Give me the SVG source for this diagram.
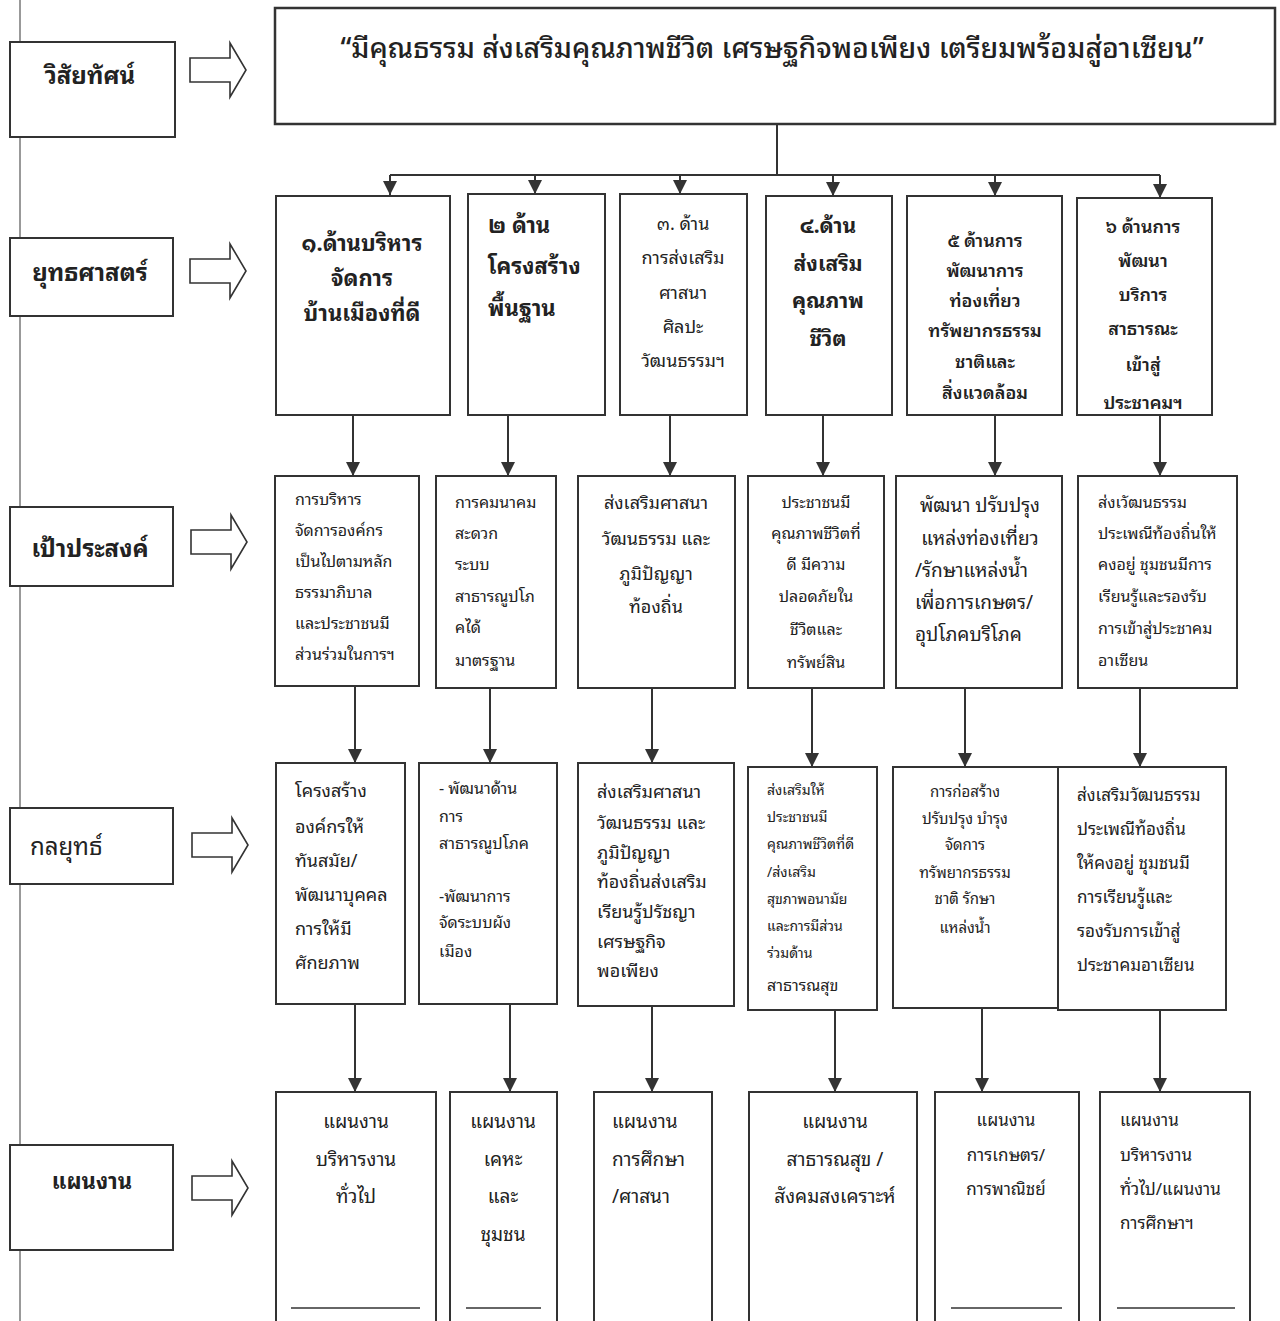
<svg xmlns="http://www.w3.org/2000/svg" width="1280" height="1321" viewBox="0 0 1280 1321">
<style>
text{font-family:"Noto Sans Thai Looped","Noto Sans Thai","Noto Sans","DejaVu Sans",sans-serif;fill:#222;}
.box{fill:#fff;stroke:#333;stroke-width:2;}
.lbl{font-size:24px;font-weight:bold;}
.c{text-anchor:middle;}
.b{font-weight:bold;}
.con{stroke:#333;stroke-width:2;fill:none;}
.hol{fill:#fff;stroke:#333;stroke-width:1.6;}
.ul{stroke:#333;stroke-width:1.5;}
</style>
<defs>
<marker id="ah" viewBox="0 0 10 10" refX="10" refY="5" markerWidth="7" markerHeight="7" orient="auto" markerUnits="strokeWidth">
<path d="M0,0 L10,5 L0,10 z" fill="#333"/>
</marker>
<path id="hollow" d="M0,-12 L40,-12 L40,-27 L56,0 L40,27 L40,12 L0,12 z"/>
</defs>
<rect x="0" y="0" width="1280" height="1321" fill="#fff"/>
<line x1="20" y1="0" x2="20" y2="1321" stroke="#999" stroke-width="2"/>

<g id="labels">
<g id="lbl-vision"><rect class="box" x="10" y="42" width="165" height="95"/><text class="lbl c" x="90" y="84">วิสัยทัศน์</text><use href="#hollow" class="hol" x="190" y="70"/></g>
<g id="lbl-strategy"><rect class="box" x="10" y="238" width="163" height="78"/><text class="lbl c" x="90" y="281">ยุทธศาสตร์</text><use href="#hollow" class="hol" x="190" y="271"/></g>
<g id="lbl-goal"><rect class="box" x="10" y="507" width="163" height="79"/><text class="lbl c" x="90" y="557">เป้าประสงค์</text><use href="#hollow" class="hol" x="191" y="542"/></g>
<g id="lbl-tactic"><rect class="box" x="10" y="808" width="163" height="76"/><text x="30" y="855" style="font-size:24px">กลยุทธ์</text><use href="#hollow" class="hol" x="192" y="845"/></g>
<g id="lbl-plan"><rect class="box" x="10" y="1145" width="163" height="105"/><text class="c" x="92" y="1189" style="font-size:22px;font-weight:bold">แผนงาน</text><use href="#hollow" class="hol" x="192" y="1188"/></g>
</g>

<g id="connectors">
<polyline class="con" points="777,124 777,175"/>
<line class="con" x1="390" y1="175" x2="1160" y2="175"/>
<line class="con" x1="390" y1="175" x2="390" y2="195" marker-end="url(#ah)"/>
<line class="con" x1="535" y1="175" x2="535" y2="194" marker-end="url(#ah)"/>
<line class="con" x1="680" y1="175" x2="680" y2="194" marker-end="url(#ah)"/>
<line class="con" x1="833" y1="175" x2="833" y2="196" marker-end="url(#ah)"/>
<line class="con" x1="995" y1="175" x2="995" y2="196" marker-end="url(#ah)"/>
<line class="con" x1="1160" y1="175" x2="1160" y2="198" marker-end="url(#ah)"/>

<line class="con" x1="353" y1="415" x2="353" y2="476" marker-end="url(#ah)"/>
<line class="con" x1="508" y1="415" x2="508" y2="476" marker-end="url(#ah)"/>
<line class="con" x1="670" y1="415" x2="670" y2="476" marker-end="url(#ah)"/>
<line class="con" x1="823" y1="415" x2="823" y2="476" marker-end="url(#ah)"/>
<line class="con" x1="995" y1="415" x2="995" y2="476" marker-end="url(#ah)"/>
<line class="con" x1="1160" y1="415" x2="1160" y2="476" marker-end="url(#ah)"/>

<line class="con" x1="355" y1="686" x2="355" y2="763" marker-end="url(#ah)"/>
<line class="con" x1="490" y1="688" x2="490" y2="763" marker-end="url(#ah)"/>
<line class="con" x1="652" y1="688" x2="652" y2="763" marker-end="url(#ah)"/>
<line class="con" x1="812" y1="688" x2="812" y2="767" marker-end="url(#ah)"/>
<line class="con" x1="965" y1="688" x2="965" y2="767" marker-end="url(#ah)"/>
<line class="con" x1="1140" y1="688" x2="1140" y2="767" marker-end="url(#ah)"/>

<line class="con" x1="355" y1="1004" x2="355" y2="1092" marker-end="url(#ah)"/>
<line class="con" x1="510" y1="1004" x2="510" y2="1092" marker-end="url(#ah)"/>
<line class="con" x1="652" y1="1006" x2="652" y2="1092" marker-end="url(#ah)"/>
<line class="con" x1="835" y1="1010" x2="835" y2="1092" marker-end="url(#ah)"/>
<line class="con" x1="982" y1="1008" x2="982" y2="1092" marker-end="url(#ah)"/>
<line class="con" x1="1160" y1="1010" x2="1160" y2="1092" marker-end="url(#ah)"/>
</g>

<g id="vision">
<rect class="box" x="275" y="8" width="1000" height="116" style="stroke-width:2.5"/>
<text class="c" x="772" y="58" style="font-size:28.4px;font-weight:500">“มีคุณธรรม ส่งเสริมคุณภาพชีวิต เศรษฐกิจพอเพียง เตรียมพร้อมสู่อาเซียน”</text>
</g>

<g id="s1"><rect class="box" x="276" y="196" width="174" height="219"/>
<text class="c b" x="362" style="font-size:22px"><tspan x="362" y="251">๑.ด้านบริหาร</tspan><tspan x="362" y="286">จัดการ</tspan><tspan x="362" y="321">บ้านเมืองที่ดี</tspan></text></g>
<g id="s2"><rect class="box" x="468" y="194" width="137" height="221"/>
<text class="b" style="font-size:22px"><tspan x="488" y="233">๒  ด้าน</tspan><tspan x="488" y="274">โครงสร้าง</tspan><tspan x="488" y="316">พื้นฐาน</tspan></text></g>
<g id="s3"><rect class="box" x="620" y="194" width="127" height="221"/>
<text class="c" style="font-size:18px"><tspan x="683" y="230">๓.  ด้าน</tspan><tspan x="683" y="264">การส่งเสริม</tspan><tspan x="683" y="299">ศาสนา</tspan><tspan x="683" y="333">ศิลปะ</tspan><tspan x="683" y="367">วัฒนธรรมฯ</tspan></text></g>
<g id="s4"><rect class="box" x="766" y="196" width="126" height="219"/>
<text class="c b" style="font-size:21px"><tspan x="828" y="233">๔.ด้าน</tspan><tspan x="828" y="271">ส่งเสริม</tspan><tspan x="828" y="308">คุณภาพ</tspan><tspan x="828" y="346">ชีวิต</tspan></text></g>
<g id="s5"><rect class="box" x="907" y="196" width="155" height="219"/>
<text class="c" style="font-size:18px;font-weight:600"><tspan x="985" y="247">๕ ด้านการ</tspan><tspan x="985" y="277">พัฒนาการ</tspan><tspan x="985" y="307">ท่องเที่ยว</tspan><tspan x="985" y="337">ทรัพยากรธรรม</tspan><tspan x="985" y="368">ชาติและ</tspan><tspan x="985" y="399">สิ่งแวดล้อม</tspan></text></g>
<g id="s6"><rect class="box" x="1077" y="198" width="135" height="217"/>
<text class="c" style="font-size:18px;font-weight:600"><tspan x="1143" y="233">๖ ด้านการ</tspan><tspan x="1143" y="267">พัฒนา</tspan><tspan x="1143" y="301">บริการ</tspan><tspan x="1143" y="335">สาธารณะ</tspan><tspan x="1143" y="371">เข้าสู่</tspan><tspan x="1143" y="409">ประชาคมฯ</tspan></text></g>

<g id="g1"><rect class="box" x="275" y="476" width="144" height="210"/>
<text style="font-size:16px"><tspan x="295" y="505">การบริหาร</tspan><tspan x="295" y="536">จัดการองค์กร</tspan><tspan x="295" y="567">เป็นไปตามหลัก</tspan><tspan x="295" y="598">ธรรมาภิบาล</tspan><tspan x="295" y="629">และประชาชนมี</tspan><tspan x="295" y="660">ส่วนร่วมในการฯ</tspan></text></g>
<g id="g2"><rect class="box" x="436" y="476" width="120" height="212"/>
<text style="font-size:16px"><tspan x="455" y="508">การคมนาคม</tspan><tspan x="455" y="539">สะดวก</tspan><tspan x="455" y="570">ระบบ</tspan><tspan x="455" y="602">สาธารณูปโภ</tspan><tspan x="455" y="633">คได้</tspan><tspan x="455" y="666">มาตรฐาน</tspan></text></g>
<g id="g3"><rect class="box" x="578" y="476" width="157" height="212"/>
<text class="c" style="font-size:18px"><tspan x="656" y="509">ส่งเสริมศาสนา</tspan><tspan x="656" y="545">วัฒนธรรม และ</tspan><tspan x="656" y="580">ภูมิปัญญา</tspan><tspan x="656" y="613">ท้องถิ่น</tspan></text></g>
<g id="g4"><rect class="box" x="748" y="476" width="136" height="212"/>
<text class="c" style="font-size:16px"><tspan x="816" y="508">ประชาชนมี</tspan><tspan x="816" y="539">คุณภาพชีวิตที่</tspan><tspan x="816" y="570">ดี มีความ</tspan><tspan x="816" y="602">ปลอดภัยใน</tspan><tspan x="816" y="635">ชีวิตและ</tspan><tspan x="816" y="668">ทรัพย์สิน</tspan></text></g>
<g id="g5"><rect class="box" x="896" y="476" width="166" height="212"/>
<text style="font-size:19px"><tspan x="980" y="512" text-anchor="middle">พัฒนา ปรับปรุง</tspan><tspan x="980" y="545" text-anchor="middle">แหล่งท่องเที่ยว</tspan><tspan x="915" y="577">/รักษาแหล่งน้ำ</tspan><tspan x="915" y="609">เพื่อการเกษตร/</tspan><tspan x="915" y="641">อุปโภคบริโภค</tspan></text></g>
<g id="g6"><rect class="box" x="1078" y="476" width="159" height="212"/>
<text style="font-size:16px"><tspan x="1098" y="508">ส่งเวัฒนธรรม</tspan><tspan x="1098" y="539">ประเพณีท้องถิ่นให้</tspan><tspan x="1098" y="570">คงอยู่ ชุมชนมีการ</tspan><tspan x="1098" y="602">เรียนรู้และรองรับ</tspan><tspan x="1098" y="634">การเข้าสู่ประชาคม</tspan><tspan x="1098" y="666">อาเซียน</tspan></text></g>

<g id="t1"><rect class="box" x="276" y="763" width="129" height="241"/>
<text style="font-size:18px"><tspan x="295" y="797">โครงสร้าง</tspan><tspan x="295" y="833">องค์กรให้</tspan><tspan x="295" y="867">ทันสมัย/</tspan><tspan x="295" y="901">พัฒนาบุคคล</tspan><tspan x="295" y="935">การให้มี</tspan><tspan x="295" y="969">ศักยภาพ</tspan></text></g>
<g id="t2"><rect class="box" x="419" y="763" width="138" height="241"/>
<text style="font-size:16px"><tspan x="439" y="794">-  พัฒนาด้าน</tspan><tspan x="439" y="822">การ</tspan><tspan x="439" y="849">สาธารณูปโภค</tspan><tspan x="439" y="902">-พัฒนาการ</tspan><tspan x="439" y="928">จัดระบบผัง</tspan><tspan x="439" y="957">เมือง</tspan></text></g>
<g id="t3"><rect class="box" x="578" y="763" width="156" height="243"/>
<text style="font-size:18px"><tspan x="597" y="798">ส่งเสริมศาสนา</tspan><tspan x="597" y="829">วัฒนธรรม และ</tspan><tspan x="597" y="859">ภูมิปัญญา</tspan><tspan x="597" y="888">ท้องถิ่นส่งเสริม</tspan><tspan x="597" y="918">เรียนรู้ปรัชญา</tspan><tspan x="597" y="948">เศรษฐกิจ</tspan><tspan x="597" y="977">พอเพียง</tspan></text></g>
<g id="t4"><rect class="box" x="748" y="767" width="129" height="243"/>
<text style="font-size:14px"><tspan x="767" y="795">ส่งเสริมให้</tspan><tspan x="767" y="822">ประชาชนมี</tspan><tspan x="767" y="849">คุณภาพชีวิตที่ดี</tspan><tspan x="767" y="877">/ส่งเสริม</tspan><tspan x="767" y="904">สุขภาพอนามัย</tspan><tspan x="767" y="931">และการมีส่วน</tspan><tspan x="767" y="958">ร่วมด้าน</tspan><tspan x="767" y="991" style="font-size:16px">สาธารณสุข</tspan></text></g>
<g id="t5"><rect class="box" x="893" y="767" width="169" height="241"/>
<text class="c" style="font-size:15px"><tspan x="965" y="797">การก่อสร้าง</tspan><tspan x="965" y="824">ปรับปรุง  บำรุง</tspan><tspan x="965" y="850">จัดการ</tspan><tspan x="965" y="878">ทรัพยากรธรรม</tspan><tspan x="965" y="904">ชาติ รักษา</tspan><tspan x="965" y="933">แหล่งน้ำ</tspan></text></g>
<g id="t6"><rect class="box" x="1058" y="767" width="168" height="243"/>
<text style="font-size:17px"><tspan x="1077" y="801">ส่งเสริมวัฒนธรรม</tspan><tspan x="1077" y="835">ประเพณีท้องถิ่น</tspan><tspan x="1077" y="869">ให้คงอยู่ ชุมชนมี</tspan><tspan x="1077" y="903">การเรียนรู้และ</tspan><tspan x="1077" y="937">รองรับการเข้าสู่</tspan><tspan x="1077" y="971">ประชาคมอาเซียน</tspan></text></g>

<g id="p1"><rect class="box" x="276" y="1092" width="160" height="240"/>
<text class="c" style="font-size:19px"><tspan x="356" y="1128">แผนงาน</tspan><tspan x="356" y="1166">บริหารงาน</tspan><tspan x="356" y="1203">ทั่วไป</tspan></text>
<line class="ul" x1="291" y1="1308" x2="420" y2="1308"/></g>
<g id="p2"><rect class="box" x="450" y="1092" width="107" height="240"/>
<text class="c" style="font-size:19px"><tspan x="503" y="1128">แผนงาน</tspan><tspan x="503" y="1166">เคหะ</tspan><tspan x="503" y="1203">และ</tspan><tspan x="503" y="1241">ชุมชน</tspan></text>
<line class="ul" x1="466" y1="1308" x2="541" y2="1308"/></g>
<g id="p3"><rect class="box" x="594" y="1092" width="118" height="240"/>
<text style="font-size:19px"><tspan x="612" y="1128">แผนงาน</tspan><tspan x="612" y="1166">การศึกษา</tspan><tspan x="612" y="1203">/ศาสนา</tspan></text></g>
<g id="p4"><rect class="box" x="749" y="1092" width="168" height="240"/>
<text class="c" style="font-size:19px"><tspan x="835" y="1128">แผนงาน</tspan><tspan x="835" y="1166">สาธารณสุข /</tspan><tspan x="835" y="1203">สังคมสงเคราะห์</tspan></text></g>
<g id="p5"><rect class="box" x="935" y="1092" width="144" height="240"/>
<text class="c" style="font-size:17px"><tspan x="1006" y="1126">แผนงาน</tspan><tspan x="1006" y="1161">การเกษตร/</tspan><tspan x="1006" y="1195">การพาณิชย์</tspan></text>
<line class="ul" x1="951" y1="1308" x2="1062" y2="1308"/></g>
<g id="p6"><rect class="box" x="1100" y="1092" width="150" height="240"/>
<text style="font-size:17px"><tspan x="1120" y="1126">แผนงาน</tspan><tspan x="1120" y="1161">บริหารงาน</tspan><tspan x="1120" y="1195">ทั่วไป/แผนงาน</tspan><tspan x="1120" y="1229">การศึกษาฯ</tspan></text>
<line class="ul" x1="1117" y1="1308" x2="1235" y2="1308"/></g>
</svg>
